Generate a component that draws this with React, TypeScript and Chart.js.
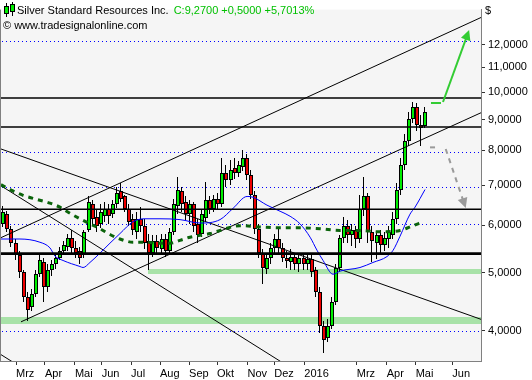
import React, { useEffect, useRef } from 'react';
import { Chart, registerables } from 'chart.js';

Chart.register(...registerables);

// ---------- axes (x = trading-day index, y = price in $) ----------
const dayMin = -0.74;
const dayMax = 355.0;
const monthTicks = [11.1, 32.5, 54.7, 74.5, 96.2, 117.6, 139.1, 159.8, 182.3, 202.1, 224.3, 263.1, 285.3, 306.7, 333.8];
const monthLabels = ['Mrz', 'Apr', 'Mai', 'Jun', 'Jul', 'Aug', 'Sep', 'Okt', 'Nov', 'Dez', '2016', 'Mrz', 'Apr', 'Mai', 'Jun'];
const priceMin = 3.562;
const priceMax = 13.73;
const priceTicks = [4, 5, 6, 7, 8, 9, 10, 11, 12];

// ---------- candles (one candle every dayStep trading days) ----------
const firstDay = 1;
const dayStep = 3;
const open = [
  6.03, 6.26, 5.92, 5.60, 5.35, 5.01, 4.56, 4.39, 4.61, 4.97,
  5.20, 4.74, 5.05, 5.16, 5.28, 5.43, 5.52, 5.71, 5.50, 5.43,
  5.35, 5.90, 6.50, 6.19, 6.03, 6.21, 6.38, 6.26, 6.50, 6.85,
  6.70, 6.38, 6.15, 5.85, 6.15, 5.99, 5.64, 5.39, 5.64, 5.48,
  5.69, 5.43, 5.85, 6.45, 6.83, 6.55, 6.26, 6.50, 6.03, 5.81,
  6.17, 6.61, 6.38, 6.63, 6.50, 7.33, 7.14, 7.47, 7.33, 7.49,
  7.78, 7.28, 6.75, 5.92, 5.39, 5.08, 5.30, 5.50, 5.69, 5.50,
  5.30, 5.20, 5.32, 5.16, 5.28, 5.16, 5.26, 5.05, 4.65, 4.08,
  3.89, 4.08, 4.47, 5.10, 5.71, 5.99, 5.77, 5.90, 5.69, 6.38,
  6.70, 5.85, 5.60, 5.77, 5.56, 5.69, 5.77, 6.15, 6.88, 7.55,
  8.29, 9.03, 9.45, 8.83, 8.77,
];
const high = [
  6.45, 6.33, 5.99, 5.69, 5.43, 5.05, 4.65, 4.69, 5.05, 5.35,
  5.28, 5.16, 5.24, 5.35, 5.52, 5.64, 5.81, 5.88, 5.64, 5.52,
  5.90, 6.70, 6.61, 6.38, 6.50, 6.55, 6.50, 6.61, 6.96, 7.06,
  6.75, 6.50, 6.26, 6.31, 6.43, 6.15, 5.81, 5.77, 5.77, 5.81,
  5.81, 5.94, 6.63, 7.22, 6.96, 6.70, 6.61, 6.55, 6.15, 6.38,
  7.09, 6.70, 6.75, 6.80, 7.76, 7.55, 7.70, 7.78, 7.67, 8.02,
  7.90, 7.41, 6.85, 6.03, 5.48, 5.39, 5.60, 5.81, 5.92, 5.60,
  5.43, 5.48, 5.39, 5.39, 5.35, 5.35, 5.35, 5.12, 4.74, 4.15,
  4.18, 4.56, 5.16, 5.77, 6.19, 6.13, 6.03, 5.99, 6.75, 7.22,
  6.80, 5.99, 5.85, 5.90, 5.85, 5.99, 6.31, 7.06, 7.78, 8.51,
  9.27, 9.63, 9.59, 9.17, 9.45,
];
const low = [
  5.96, 5.85, 5.52, 5.24, 4.90, 4.47, 4.15, 4.31, 4.56, 4.92,
  4.47, 4.65, 4.94, 5.08, 5.24, 5.35, 5.43, 5.39, 5.30, 5.16,
  5.30, 5.85, 5.99, 5.85, 5.94, 6.08, 6.03, 6.17, 6.40, 6.55,
  6.31, 5.99, 5.77, 5.69, 5.85, 5.48, 5.05, 5.32, 5.35, 5.39,
  5.32, 5.35, 5.77, 6.26, 6.31, 6.13, 6.03, 5.85, 5.60, 5.73,
  6.08, 6.26, 6.31, 6.36, 6.43, 6.96, 7.01, 7.17, 7.22, 7.38,
  7.14, 6.63, 5.81, 5.28, 4.79, 4.97, 5.16, 5.39, 5.39, 5.20,
  5.10, 5.05, 5.05, 5.01, 5.05, 5.05, 4.92, 4.56, 3.96, 3.67,
  3.83, 4.03, 4.41, 5.01, 5.60, 5.60, 5.54, 5.50, 5.60, 6.21,
  5.60, 5.20, 5.26, 5.39, 5.43, 5.50, 5.69, 6.03, 6.75, 7.41,
  8.14, 8.90, 8.61, 8.14, 8.70,
];
const close = [
  6.31, 5.92, 5.60, 5.35, 5.01, 4.56, 4.34, 4.61, 4.97, 5.24,
  4.74, 5.05, 5.16, 5.28, 5.43, 5.56, 5.71, 5.50, 5.39, 5.28,
  5.85, 6.55, 6.15, 5.99, 6.31, 6.38, 6.21, 6.50, 6.80, 6.63,
  6.38, 6.08, 5.90, 6.15, 5.99, 5.60, 5.39, 5.64, 5.50, 5.69,
  5.43, 5.85, 6.50, 6.88, 6.50, 6.26, 6.50, 5.99, 5.77, 6.26,
  6.61, 6.38, 6.63, 6.50, 7.33, 7.14, 7.41, 7.33, 7.55, 7.78,
  7.28, 6.75, 5.92, 5.39, 5.10, 5.30, 5.50, 5.69, 5.50, 5.30,
  5.24, 5.32, 5.16, 5.28, 5.16, 5.26, 5.01, 4.65, 4.08, 3.86,
  4.08, 4.47, 5.10, 5.71, 5.99, 5.77, 5.90, 5.69, 6.38, 6.70,
  5.85, 5.64, 5.77, 5.56, 5.71, 5.85, 6.15, 6.88, 7.55, 8.29,
  9.03, 9.45, 8.83, 8.77, 9.27,
];

// ---------- moving averages ----------
const smaFastDays = [0, 14, 28.8, 36.2, 39.9, 45.9, 58.4, 60.7, 65.8, 73.2, 80.6, 88, 97.6, 106.5, 117.6, 132.4, 147.2, 162, 171.6, 182, 186.4, 196.7, 206.4, 213.8, 221.2, 228.6, 233.7, 238.2, 245.6, 250.7, 265.5, 275.1, 285.5, 290, 295.1, 302.5, 306.2, 313.6];
const smaFast = [5.69, 5.69, 5.62, 5.50, 5.33, 5.24, 5.12, 5.10, 5.20, 5.39, 5.60, 5.81, 6.08, 6.15, 6.15, 6.13, 6.05, 6.13, 6.40, 6.70, 6.68, 6.48, 6.33, 6.21, 6.03, 5.73, 5.45, 5.24, 4.97, 5.03, 5.10, 5.20, 5.32, 5.45, 5.75, 6.26, 6.43, 6.88];
const smaSlowDays = [0, 6.7, 16.3, 23.7, 36.2, 43.6, 51, 58.4, 65.8, 73.2, 80.6, 88, 97.6, 106.5, 117.6, 125, 132.4, 139.8, 147.2, 154.6, 162, 176.8, 191.6, 206.4, 221.2, 236, 250.7, 265.5, 280.3, 295.1, 302.5, 312.1];
const smaSlow = [7.01, 6.88, 6.73, 6.65, 6.53, 6.43, 6.28, 6.15, 6.03, 5.92, 5.79, 5.69, 5.62, 5.62, 5.60, 5.60, 5.66, 5.73, 5.77, 5.81, 5.88, 5.99, 5.96, 5.94, 5.94, 5.92, 5.88, 5.88, 5.85, 5.88, 5.96, 6.08];

// ---------- drawing tools ----------
const trendStartDay = [0, 0, 0, 0, 14.8];
const trendStartPrice = [8.04, 6.98, 3.65, 5.72, 4.14];
const trendEndDay = [355, 213.8, 20, 355, 355];
const trendEndPrice = [4.18, 3.475, 3.42, 13.32, 9.24];
const levelLines = [9.78, 8.745, 6.38];
const supportLine = 5.38;
const dottedLevels = [3.99, 6.03, 6.96, 7.95, 12.17];
const bandLow = [4.97, 4.106];
const bandHigh = [5.08, 4.215];
const bandStartDay = [108.7, dayMin];
const upDays = [318.0, 325.4, 326.9, 346.2];
const upPrices = [9.59, 9.59, 9.63, 12.69];
const downDays = [317.3, 322.5, 328.9, 343.7];
const downPrices = [8.09, 8.09, 8.04, 6.41];

const instrument = 'Silver Standard Resources Inc.';
const credit = '\u00A9 www.tradesignalonline.com';
const FONT = '"Liberation Sans", Arial, sans-serif';

const fmt = (v: number, d: number) => v.toFixed(d).replace('.', ',');

function drawArrow(ctx: CanvasRenderingContext2D, pts: number[][], color: string, dash: number[]) {
  ctx.save();
  ctx.strokeStyle = color;
  ctx.fillStyle = color;
  ctx.lineWidth = 2;
  ctx.setLineDash(dash);
  // first short horizontal segment
  ctx.beginPath();
  ctx.moveTo(pts[0][0], pts[0][1]);
  ctx.lineTo(pts[1][0], pts[1][1]);
  ctx.stroke();
  // main segment
  const [x1, y1] = pts[2];
  const [x2, y2] = pts[3];
  const ang = Math.atan2(y2 - y1, x2 - x1);
  const L = 10, W = 5;
  const ex = x2 - Math.cos(ang) * (L - 2);
  const ey = y2 - Math.sin(ang) * (L - 2);
  ctx.beginPath();
  ctx.moveTo(x1, y1);
  ctx.lineTo(ex, ey);
  ctx.stroke();
  ctx.setLineDash([]);
  const bx = x2 - Math.cos(ang) * L;
  const by = y2 - Math.sin(ang) * L;
  ctx.beginPath();
  ctx.moveTo(x2, y2);
  ctx.lineTo(bx + Math.sin(ang) * W, by - Math.cos(ang) * W);
  ctx.lineTo(bx - Math.sin(ang) * W, by + Math.cos(ang) * W);
  ctx.closePath();
  ctx.fill();
  ctx.restore();
}

const drawPlugin = {
  id: 'tsDraw',
  beforeDraw(chart: any) {
    const { ctx, chartArea: a, width, height } = chart;
    ctx.save();
    ctx.fillStyle = '#ffffff';
    ctx.fillRect(0, 0, width, height);
    ctx.fillStyle = '#f5f5f5';
    ctx.fillRect(a.left, a.top, a.right - a.left, a.bottom - a.top);
    ctx.restore();
  },
  beforeDatasetsDraw(chart: any) {
    const { ctx, chartArea: a, scales } = chart;
    const xs = scales.x, ys = scales.y;
    ctx.save();
    ctx.beginPath();
    ctx.rect(a.left, a.top, a.right - a.left, a.bottom - a.top);
    ctx.clip();
    // bands
    ctx.fillStyle = '#a8e2a8';
    for (let i = 0; i < bandLow.length; i++) {
      const x0 = Math.round(xs.getPixelForValue(bandStartDay[i]));
      const y0 = Math.round(ys.getPixelForValue(bandHigh[i]));
      const y1 = Math.round(ys.getPixelForValue(bandLow[i]));
      ctx.fillRect(x0, y0, a.right - x0, y1 - y0);
    }
    // dotted levels
    ctx.strokeStyle = '#0000ff';
    ctx.lineWidth = 1;
    ctx.setLineDash([1, 3]);
    dottedLevels.forEach((v) => {
      const y = Math.round(ys.getPixelForValue(v)) + 0.5;
      ctx.beginPath();
      ctx.moveTo(a.left + 2, y);
      ctx.lineTo(a.right, y);
      ctx.stroke();
    });
    ctx.setLineDash([]);
    // candles
    for (let i = 0; i < open.length; i++) {
      const px = Math.round(xs.getPixelForValue(firstDay + i * dayStep));
      const yo = ys.getPixelForValue(open[i]);
      const yc = ys.getPixelForValue(close[i]);
      const yh = Math.round(ys.getPixelForValue(high[i]));
      const yl = Math.round(ys.getPixelForValue(low[i]));
      ctx.fillStyle = '#000000';
      ctx.fillRect(px, yh, 1, yl - yh);
      const top = Math.round(Math.min(yo, yc));
      let bot = Math.round(Math.max(yo, yc));
      if (bot - top < 3) bot = top + 3;
      ctx.fillRect(px - 1, top, 4, bot - top);
      ctx.fillStyle = close[i] >= open[i] ? '#00ee00' : '#ee0000';
      ctx.fillRect(px, top + 1, 2, bot - top - 2);
    }
    ctx.restore();
  },
  afterDatasetsDraw(chart: any) {
    const { ctx, chartArea: a, scales } = chart;
    const xs = scales.x, ys = scales.y;
    ctx.save();
    ctx.beginPath();
    ctx.rect(a.left, a.top, a.right - a.left, a.bottom - a.top);
    ctx.clip();
    ctx.strokeStyle = '#000000';
    levelLines.forEach((v) => {
      const y = ys.getPixelForValue(v);
      ctx.lineWidth = 1.5;
      ctx.beginPath();
      ctx.moveTo(a.left, y);
      ctx.lineTo(a.right, y);
      ctx.stroke();
    });
    {
      const y = ys.getPixelForValue(supportLine);
      ctx.lineWidth = 2.6;
      ctx.beginPath();
      ctx.moveTo(a.left, y);
      ctx.lineTo(a.right, y);
      ctx.stroke();
    }
    const up = upDays.map((d, i) => [xs.getPixelForValue(d), ys.getPixelForValue(upPrices[i])]);
    const dn = downDays.map((d, i) => [xs.getPixelForValue(d), ys.getPixelForValue(downPrices[i])]);
    drawArrow(ctx, up, '#33cc33', []);
    drawArrow(ctx, dn, '#9a9a9a', [5, 5]);
    ctx.restore();
  },
  afterDraw(chart: any) {
    const { ctx, chartArea: a } = chart;
    ctx.save();
    // left border
    ctx.fillStyle = '#808080';
    ctx.fillRect(a.left, a.top, 1, a.bottom - a.top);
    // icon
    ctx.fillStyle = '#000000';
    ctx.fillRect(6, 3, 1, 14);
    ctx.fillRect(4, 6, 5, 8);
    ctx.fillRect(12, 2, 1, 14);
    ctx.fillRect(10, 4, 5, 8);
    ctx.fillStyle = '#00ee00';
    ctx.fillRect(5, 7, 3, 6);
    ctx.fillRect(11, 5, 3, 6);
    // title
    const last = close[close.length - 1];
    const prev = close[close.length - 2];
    const diff = last - prev;
    const pct = (diff / prev) * 100;
    const quote = `C:${fmt(last, 4)} ${diff >= 0 ? '+' : ''}${fmt(diff, 4)} ${pct >= 0 ? '+' : ''}${fmt(pct, 4)}%`;
    ctx.font = `11px ${FONT}`;
    ctx.textBaseline = 'alphabetic';
    ctx.textAlign = 'left';
    ctx.fillStyle = '#000000';
    ctx.fillText(instrument, 17, 14);
    const w = ctx.measureText(instrument).width;
    ctx.fillStyle = '#00c000';
    ctx.fillText(quote, 17 + w + 5, 14);
    ctx.fillStyle = '#000000';
    ctx.fillText(credit, 3, 29);
    ctx.fillText('$', a.right + 4, 14);
    ctx.restore();
  },
};

export default function App() {
  const ref = useRef<HTMLCanvasElement | null>(null);
  useEffect(() => {
    if (!ref.current) return;
    Chart.defaults.font.family = FONT;
    const trendSets = trendStartDay.map((d, i) => ({
      data: [
        { x: d, y: trendStartPrice[i] },
        { x: trendEndDay[i], y: trendEndPrice[i] },
      ],
      borderColor: '#000000',
      borderWidth: 1,
      pointRadius: 0,
    }));
    const chart = new Chart(ref.current, {
      type: 'line',
      data: {
        datasets: [
          {
            data: smaFastDays.map((d, i) => ({ x: d, y: smaFast[i] })),
            borderColor: '#0000ff',
            borderWidth: 1,
            pointRadius: 0,
            cubicInterpolationMode: 'monotone',
          },
          {
            data: smaSlowDays.map((d, i) => ({ x: d, y: smaSlow[i] })),
            borderColor: '#0b640b',
            borderWidth: 3,
            borderDash: [5, 5],
            borderCapStyle: 'butt',
            pointRadius: 0,
            cubicInterpolationMode: 'monotone',
          },
          ...trendSets,
        ] as any,
      },
      options: {
        animation: false,
        responsive: false,
        devicePixelRatio: 1,
        events: [],
        layout: { padding: 0 },
        plugins: {
          legend: { display: false },
          tooltip: { enabled: false },
        },
        scales: {
          x: {
            type: 'linear',
            position: 'bottom',
            min: dayMin,
            max: dayMax,
            afterBuildTicks: (s: any) => {
              s.ticks = monthTicks.map((v) => ({ value: v }));
            },
            afterFit: (s: any) => {
              s.height = 19;
            },
            grid: { drawOnChartArea: false, drawTicks: true, tickLength: 4, color: '#333333' },
            border: { display: true, color: '#808080' },
            ticks: {
              autoSkip: false,
              maxRotation: 0,
              minRotation: 0,
              align: 'start',
              padding: 2,
              color: '#000000',
              font: { family: FONT, size: 11 },
              callback: (_v: any, i: number) => monthLabels[i],
            },
          },
          y: {
            type: 'logarithmic',
            position: 'right',
            min: priceMin,
            max: priceMax,
            afterBuildTicks: (s: any) => {
              s.ticks = priceTicks.map((v) => ({ value: v }));
            },
            afterFit: (s: any) => {
              s.width = 51;
            },
            grid: { drawOnChartArea: false, drawTicks: true, tickLength: 4, color: '#333333' },
            border: { display: true, color: '#808080' },
            ticks: {
              autoSkip: false,
              padding: 3,
              color: '#000000',
              font: { family: FONT, size: 11 },
              callback: (v: any) => fmt(Number(v), 4),
            },
          },
        },
      } as any,
      plugins: [drawPlugin],
    });
    return () => chart.destroy();
  }, []);
  return (
    <div style={{ position: 'absolute', left: 0, top: 0, width: 532, height: 380 }}>
      <canvas ref={ref} width={532} height={380} style={{ width: 532, height: 380, display: 'block' }} />
    </div>
  );
}
